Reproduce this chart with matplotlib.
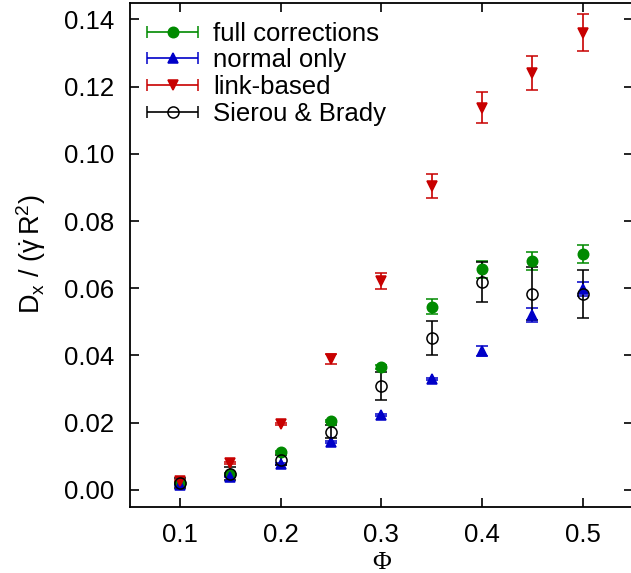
import numpy as np
import matplotlib
matplotlib.use("Agg")
import matplotlib.pyplot as plt
from matplotlib.legend_handler import HandlerErrorbar
from matplotlib.container import ErrorbarContainer

plt.rcParams['font.family'] = ['Liberation Sans', 'DejaVu Sans']
plt.rcParams['mathtext.fontset'] = 'custom'
plt.rcParams['mathtext.rm'] = 'Liberation Sans'
plt.rcParams['mathtext.it'] = 'Liberation Sans'

phi = [0.10, 0.15, 0.20, 0.25, 0.30, 0.35, 0.40, 0.45, 0.50]

full_corr = [0.0021, 0.0048, 0.0113, 0.0205, 0.0366, 0.0545, 0.0657, 0.0682, 0.0702]
full_err = [0.0003, 0.0003, 0.0004, 0.0004, 0.0006, 0.0022, 0.0025, 0.0027, 0.0028]

normal_only = [0.0015, 0.0039, 0.0077, 0.0143, 0.0223, 0.0330, 0.0413, 0.0521, 0.0598]
normal_err = [0.0002, 0.0002, 0.0003, 0.0003, 0.0003, 0.0003, 0.0015, 0.0021, 0.0021]

link_based = [0.0027, 0.0080, 0.0196, 0.0390, 0.0622, 0.0905, 0.1137, 0.1241, 0.1360]
link_err = [0.0002, 0.0002, 0.0003, 0.0015, 0.0025, 0.0035, 0.0046, 0.0050, 0.0055]

sierou = [0.0021, 0.0048, 0.0089, 0.0173, 0.0310, 0.0452, 0.0619, 0.0584, 0.0583]
sierou_err = [0.0015, 0.0020, 0.0015, 0.0020, 0.0042, 0.0050, 0.0060, 0.0079, 0.0072]

labels = ["full corrections", "normal only", "link-based", "Sierou & Brady"]

FS = 18.5

fig = plt.figure(figsize=(6.31, 5.73), dpi=100)
ax = fig.add_axes([129.8 / 631, (573 - 506.7) / 573, (633 - 129.8) / 631, (506.7 - 2.7) / 573])

green = '#008a00'
blue = '#0000c8'
red = '#c80000'

series = [
    (full_corr, full_err, green, 'o', green, 7.5),
    (normal_only, normal_err, blue, '^', blue, 7.5),
    (link_based, link_err, red, 'v', red, 7.8),
    (sierou, sierou_err, 'black', 'o', 'none', 8),
]

handles = []
for (vals, errs, col, mk, mfc, ms), lab in zip(series, labels):
    ax.errorbar(phi, vals, yerr=errs, fmt=mk, color=col, mfc=mfc, mec=col,
                ms=ms, ecolor=col, elinewidth=1.2, capsize=4, capthick=1.2,
                mew=1.1)
    h = ax.errorbar([np.nan], [np.nan], xerr=[1.0], fmt=mk, color=col, mfc=mfc,
                    mec=col, ms=ms, ecolor=col, elinewidth=1.2, capsize=4,
                    capthick=1.2, mew=1.1)
    handles.append(h)

ax.set_xlim(0.05, 0.55)
ax.set_ylim(-0.005, 0.145)
ax.set_xticks([0.1, 0.2, 0.3, 0.4, 0.5])
ax.set_xticklabels(['0.1', '0.2', '0.3', '0.4', '0.5'])
ax.set_yticks(np.arange(0, 0.141, 0.02))
ax.set_yticklabels(['%.2f' % v for v in np.arange(0, 0.141, 0.02)])
ax.tick_params(direction='in', length=6.5, width=1.2, top=True, right=True,
               labelsize=FS)
ax.tick_params(axis='y', pad=11)
ax.tick_params(axis='x', pad=12)
for s in ax.spines.values():
    s.set_linewidth(1.3)

ax.set_xlabel('\u03a6', fontsize=FS, fontfamily='Liberation Serif', labelpad=3)
ax.set_ylabel(r'$\mathregular{D_x\ /\ (\dot{\gamma}\, R^2)}$', fontsize=19.5, labelpad=12)

ax.legend(handles, labels, loc='upper left', frameon=False, fontsize=FS,
          handlelength=2.0, handletextpad=0.58, labelspacing=0.1,
          borderaxespad=0.0, borderpad=0.0, bbox_to_anchor=(0.034, 0.962),
          handler_map={ErrorbarContainer: HandlerErrorbar(xerr_size=1.0)})

fig.savefig('out.png', dpi=100)
